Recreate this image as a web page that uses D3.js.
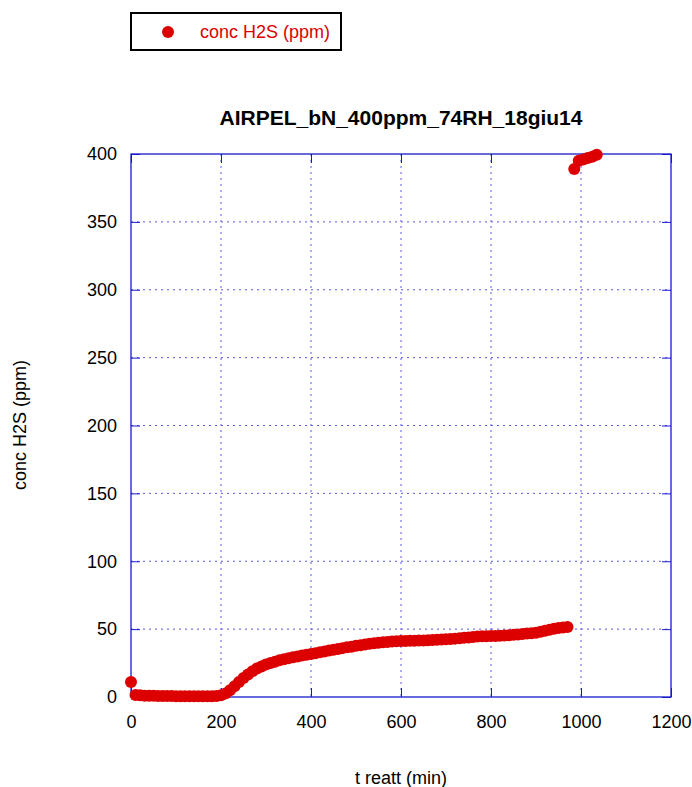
<!DOCTYPE html>
<html><head><meta charset="utf-8">
<script src="https://cdn.jsdelivr.net/npm/d3@7/dist/d3.min.js"></script>
<style>body{margin:0;background:#fff}svg{display:block}text{font-family:"Liberation Sans",Arial,sans-serif}</style>
</head><body><svg id="c" width="692" height="787"></svg>
<script>
const title = "AIRPEL_bN_400ppm_74RH_18giu14";
const seriesName = "conc H2S (ppm)";
const xLabel = "t reatt (min)";
const yLabel = "conc H2S (ppm)";
const xTicks = [0,200,400,600,800,1000,1200];
const yTicks = [0,50,100,150,200,250,300,350,400];
const timeMin = [0,10,20,30,40,50,60,70,80,90,100,110,120,130,140,150,160,170,180,190,200,
 210,220,230,240,250,260,270,280,290,300,310,320,330,340,350,360,370,380,390,400,
 410,420,430,440,450,460,470,480,490,500,510,520,530,540,550,560,570,580,590,600,
 610,620,630,640,650,660,670,680,690,700,710,720,730,740,750,760,770,780,790,800,
 810,820,830,840,850,860,870,880,890,900,910,920,930,940,950,960,970,
 985,995,1005,1015,1025,1035];
const concH2S = [11,1.5,1.2,1.0,1.0,0.9,0.8,0.8,0.7,0.7,0.6,0.6,0.5,0.5,0.5,0.5,0.5,0.5,0.6,0.8,1.2,
 2.5,5,8,11,14,16.5,19,21,22.5,24,25,26,27,27.8,28.5,29.2,29.8,30.5,31.1,31.7,
 32.3,33,33.6,34.2,34.8,35.4,36,36.6,37.1,37.7,38.2,38.7,39.2,39.6,40,40.3,40.6,40.8,41,41.2,
 41.3,41.4,41.5,41.6,41.7,41.8,42,42.2,42.4,42.6,42.8,43,43.3,43.6,43.9,44.2,44.5,44.7,44.8,44.9,
 45,45.1,45.3,45.5,45.8,46.1,46.4,46.7,47,47.4,48,48.8,49.6,50.3,50.8,51.2,51.5,
 389,395,396,397,398,399.5];

const svg = d3.select("#c");
const L=131,R=671,T=154,B=697;
const x = d3.scaleLinear().domain([0,1200]).range([L,R]);
const y = d3.scaleLinear().domain([0,400]).range([B,T]);
const gridColor="#5a5ae6", borderColor="#1a1acc";
const FS="18px";

// grid
const g = svg.append("g");
g.selectAll(".gx").data(xTicks.filter(d=>d>0&&d<1200)).enter().append("line")
 .attr("x1",d=>x(d)).attr("x2",d=>x(d)).attr("y1",T).attr("y2",B)
 .attr("stroke",gridColor).attr("stroke-width",1).attr("stroke-dasharray","2,4");
g.selectAll(".gy").data(yTicks.filter(d=>d>0&&d<400)).enter().append("line")
 .attr("y1",d=>y(d)).attr("y2",d=>y(d)).attr("x1",L).attr("x2",R)
 .attr("stroke",gridColor).attr("stroke-width",1).attr("stroke-dasharray","2,4");

// axes
const xAxis = svg.append("g").attr("transform",`translate(0,${B})`)
 .call(d3.axisBottom(x).tickValues(xTicks).tickSize(-9).tickPadding(18).tickFormat(d3.format("d")));
const yAxis = svg.append("g").attr("transform",`translate(${L},0)`)
 .call(d3.axisLeft(y).tickValues(yTicks).tickSize(-9).tickPadding(14).tickFormat(d3.format("d")));
const xTop = svg.append("g").attr("transform",`translate(0,${T})`)
 .call(d3.axisTop(x).tickValues(xTicks).tickSize(-9).tickFormat(""));
const yRight = svg.append("g").attr("transform",`translate(${R},0)`)
 .call(d3.axisRight(y).tickValues(yTicks).tickSize(-9).tickFormat(""));
[xAxis,yAxis,xTop,yRight].forEach(a=>{
 a.select(".domain").remove();
 a.selectAll("line").attr("stroke",borderColor);
 a.selectAll("text").attr("fill","#000").style("font-size",FS).style("font-family","'Liberation Sans',Arial,sans-serif");
});
// border
svg.append("rect").attr("x",L).attr("y",T).attr("width",R-L).attr("height",B-T)
 .attr("fill","none").attr("stroke",borderColor).attr("stroke-width",1.3);

// data
const pts = timeMin.map((t,i)=>({t,v:concH2S[i]}));
svg.append("g").selectAll("circle").data(pts).enter().append("circle")
 .attr("cx",d=>x(d.t)).attr("cy",d=>y(d.v)).attr("r",6).attr("fill","#dd0000");

// title & labels
svg.append("text").attr("x",401).attr("y",125).attr("text-anchor","middle")
 .style("font-size","21px").style("font-weight","bold").text(title);
svg.append("text").attr("x",401).attr("y",784).attr("text-anchor","middle")
 .style("font-size",FS).text(xLabel);
svg.append("text").attr("transform","translate(26,425) rotate(-90)").attr("text-anchor","middle")
 .style("font-size",FS).text(yLabel);

// legend
svg.append("rect").attr("x",131).attr("y",13).attr("width",210).attr("height",37)
 .attr("fill","#fff").attr("stroke","#000").attr("stroke-width",2);
svg.append("circle").attr("cx",168).attr("cy",32).attr("r",6).attr("fill","#dd0000");
svg.append("text").attr("x",200).attr("y",38).attr("fill","#dd0000")
 .style("font-size",FS).text(seriesName);
</script></body></html>
